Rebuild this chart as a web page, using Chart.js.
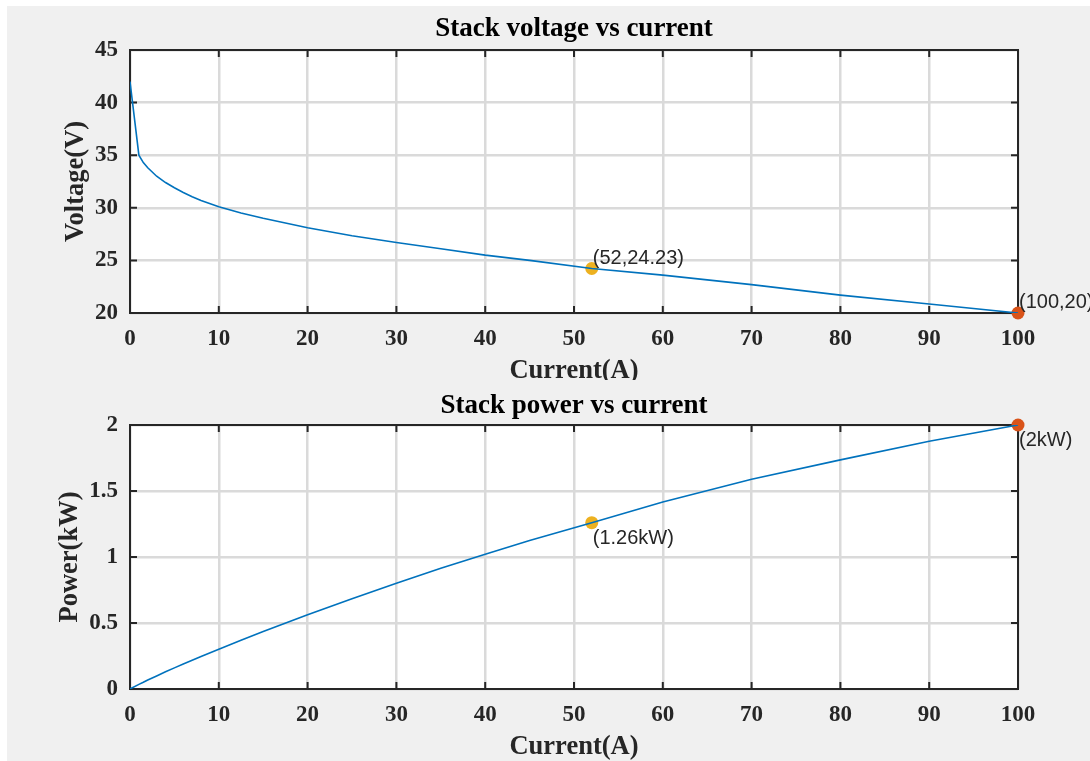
<!DOCTYPE html>
<html lang="en">
<head>
  <meta charset="UTF-8" />
  <title>Stack voltage and power vs current</title>
  <style>
    html, body { margin: 0; padding: 0; background: #fff; }
    body { width: 1090px; height: 761px; position: relative; overflow: hidden; }
    #panel { position: absolute; left: 7px; top: 6px; right: 0; bottom: 0; background: #f0f0f0; }
    .box { position: absolute; left: 0; width: 1090px; }
    #topBox { top: 0; height: 380px; }
    #bottomBox { top: 380px; height: 381px; }
  </style>
  <script src="https://cdn.jsdelivr.net/npm/chart.js"></script>
</head>
<body>
  <div id="panel"></div>
  <div class="box" id="topBox"><canvas id="voltageChart"></canvas></div>
  <div class="box" id="bottomBox"><canvas id="powerChart"></canvas></div>

  <script>
    // values
    const current = [0, 1, 1.5, 2, 3, 4, 5, 6, 7, 8, 10, 12.5, 15, 20, 25, 30, 35, 40, 45, 52, 60, 70, 80, 90, 100];
    const voltage = [42, 35, 34.3, 33.8, 33.0, 32.4, 31.9, 31.45, 31.05, 30.7, 30.1, 29.5, 29.0, 28.1, 27.35, 26.7, 26.1, 25.5, 25.0, 24.23, 23.6, 22.7, 21.7, 20.85, 20.0];
    const power = [0, 0.035, 0.051, 0.068, 0.099, 0.13, 0.16, 0.189, 0.217, 0.246, 0.301, 0.369, 0.435, 0.562, 0.684, 0.801, 0.914, 1.02, 1.125, 1.26, 1.416, 1.589, 1.736, 1.877, 2.0];

    const xTicks = [0, 10, 20, 30, 40, 50, 60, 70, 80, 90, 100];
    const voltTicks = [20, 25, 30, 35, 40, 45];
    const powerTicks = [0, 0.5, 1, 1.5, 2];

    const markCurrent = [52, 100];
    const markVoltage = [24.23, 20];
    const markPower = [1.26, 2];
    const voltNotes = ['(52,24.23)', '(100,20)'];
    const powerNotes = ['(1.26kW)', '(2kW)'];
    const markColors = ['#EDB120', '#D95319'];

    const serif = "'Liberation Serif', 'Times New Roman', serif";
    const sans = "'Liberation Sans', Arial, sans-serif";

    function pts(xs, ys) {
      return xs.map((x, i) => ({ x: x, y: ys[i] }));
    }

    // frame, inward ticks, titles and text notes drawn like the MATLAB figure
    function figurePlugin(cfg) {
      return {
        id: 'figure',
        beforeDraw(chart) {
          const a = chart.chartArea, c = chart.ctx;
          c.save();
          c.fillStyle = '#fff';
          c.fillRect(a.left, a.top, a.right - a.left, a.bottom - a.top);
          c.restore();
        },
        beforeDatasetsDraw(chart) {
          const a = chart.chartArea, c = chart.ctx;
          const xs = chart.scales.x, ys = chart.scales.y;
          c.save();
          c.strokeStyle = '#262626';
          c.lineWidth = 2;
          c.beginPath();
          xTicks.forEach(v => {
            const px = xs.getPixelForValue(v);
            c.moveTo(px, a.bottom); c.lineTo(px, a.bottom - 7);
            c.moveTo(px, a.top); c.lineTo(px, a.top + 7);
          });
          cfg.yTicks.forEach(v => {
            const py = ys.getPixelForValue(v);
            c.moveTo(a.left, py); c.lineTo(a.left + 7, py);
            c.moveTo(a.right, py); c.lineTo(a.right - 7, py);
          });
          c.stroke();
          c.strokeRect(a.left, a.top, a.right - a.left, a.bottom - a.top);
          c.restore();
        },
        afterDraw(chart) {
          const a = chart.chartArea, c = chart.ctx;
          const xs = chart.scales.x, ys = chart.scales.y;
          const cx = (a.left + a.right) / 2;
          c.save();
          c.textAlign = 'center';
          c.textBaseline = 'middle';
          c.fillStyle = '#000';
          c.font = 'bold 27px ' + serif;
          c.fillText(cfg.title, cx, cfg.titleY);
          c.fillStyle = '#262626';
          c.font = 'bold 26.5px ' + serif;
          c.fillText('Current(A)', cx, cfg.xTitleY);
          c.save();
          c.translate(cfg.yTitleX, (a.top + a.bottom) / 2);
          c.rotate(-Math.PI / 2);
          c.fillText(cfg.yTitle, 0, 0);
          c.restore();

          c.textAlign = 'left';
          c.font = '20px ' + sans;
          c.fillStyle = '#262626';
          cfg.notes.forEach((t, i) => {
            const px = xs.getPixelForValue(markCurrent[i]);
            const py = ys.getPixelForValue(cfg.markY[i]);
            c.fillText(t, px + 1, py + cfg.noteDy[i]);
          });
          c.restore();
        }
      };
    }

    function makeChart(id, cfg) {
      const tickFont = { family: serif, size: 23, weight: 'bold' };
      return new Chart(document.getElementById(id), {
        type: 'scatter',
        data: {
          datasets: [
            {
              data: pts(current, cfg.values),
              showLine: true,
              borderColor: '#0072BD',
              borderWidth: 1.6,
              pointRadius: 0,
              tension: 0
            },
            {
              data: pts(markCurrent, cfg.markY),
              showLine: false,
              pointRadius: 6.5,
              pointBackgroundColor: markColors,
              pointBorderColor: markColors,
              pointBorderWidth: 0,
              clip: false
            }
          ]
        },
        options: {
          responsive: true,
          maintainAspectRatio: false,
          animation: false,
          events: [],
          layout: { padding: cfg.padding },
          plugins: { legend: { display: false }, tooltip: { enabled: false }, title: { display: false } },
          scales: {
            x: {
              type: 'linear',
              min: 0, max: 100,
              afterBuildTicks: s => { s.ticks = xTicks.map(v => ({ value: v })); },
              afterFit: s => { s.height = 40; },
              grid: { color: '#dadada', lineWidth: 2.5, drawTicks: false },
              border: { display: false },
              ticks: { font: tickFont, color: '#262626', padding: 12, maxRotation: 0 }
            },
            y: {
              type: 'linear',
              min: cfg.yTicks[0], max: cfg.yTicks[cfg.yTicks.length - 1],
              afterBuildTicks: s => { s.ticks = cfg.yTicks.map(v => ({ value: v })); },
              afterFit: s => { s.width = 70; },
              grid: { color: '#dadada', lineWidth: 2.5, drawTicks: false },
              border: { display: false },
              ticks: { font: tickFont, color: '#262626', padding: 12, callback: v => String(v) }
            }
          }
        },
        plugins: [figurePlugin(cfg)]
      });
    }

    makeChart('voltageChart', {
      values: voltage,
      yTicks: voltTicks,
      markY: markVoltage,
      notes: voltNotes,
      noteDy: [-10, -11],
      title: 'Stack voltage vs current',
      yTitle: 'Voltage(V)',
      titleY: 29,
      xTitleY: 371,
      yTitleX: 76,
      padding: { left: 60, top: 50, right: 72, bottom: 27 }
    });

    makeChart('powerChart', {
      values: power,
      yTicks: powerTicks,
      markY: markPower,
      notes: powerNotes,
      noteDy: [16, 15],
      title: 'Stack power vs current',
      yTitle: 'Power(kW)',
      titleY: 26,
      xTitleY: 367,
      yTitleX: 70,
      padding: { left: 60, top: 45, right: 72, bottom: 32 }
    });
  </script>
</body>
</html>
